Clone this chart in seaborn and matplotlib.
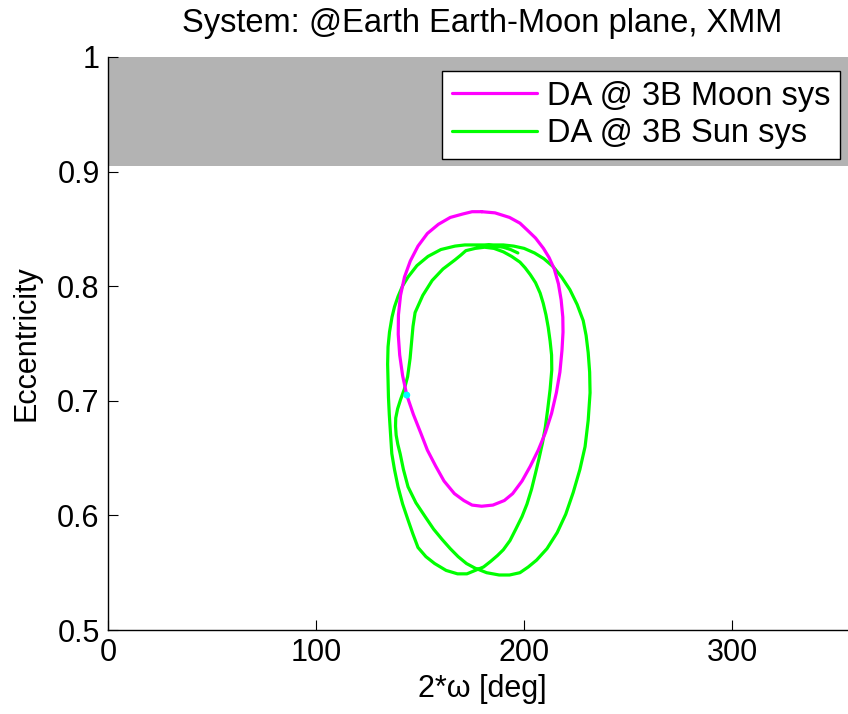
import matplotlib
matplotlib.use("Agg")
import matplotlib.pyplot as plt
import seaborn as sns
import pandas as pd

# ---- data ----
moon_omega2 = [179.7, 186.0, 193.0, 198.0, 201.5, 205.5, 209.3, 212.0, 214.5, 216.5,
               217.8, 218.6, 218.7, 218.2, 217.2, 215.5, 213.2, 210.2, 206.8, 203.0,
               199.0, 194.5, 190.5, 185.0, 179.6, 175.0, 171.0, 166.5, 161.5, 157.5,
               153.5, 150.3, 146.8, 143.6, 141.6, 140.2, 139.5, 139.6, 140.6, 142.5,
               145.3, 149.0, 153.5, 158.8, 164.5, 170.5, 175.0, 179.7]
moon_ecc = [0.865, 0.864, 0.860, 0.855, 0.849, 0.842, 0.833, 0.825, 0.815, 0.802,
            0.788, 0.773, 0.760, 0.744, 0.725, 0.707, 0.689, 0.672, 0.657, 0.643,
            0.630, 0.619, 0.613, 0.609, 0.608, 0.609, 0.613, 0.619, 0.630, 0.643,
            0.657, 0.672, 0.688, 0.705, 0.722, 0.740, 0.758, 0.775, 0.792, 0.808,
            0.822, 0.835, 0.846, 0.854, 0.860, 0.863, 0.865, 0.865]

sun_omega2 = [197.0, 193.5, 190.0, 186.5, 183.0, 179.5, 176.0, 171.5, 166.8, 160.0,
              153.8, 148.5, 144.2, 141.5, 139.4, 137.7, 136.5, 135.3, 134.6, 134.4,
              134.6, 134.8, 135.2, 135.8, 136.4, 137.7, 139.4, 141.6, 144.2, 146.5,
              149.0, 152.8, 157.0, 162.5, 168.0, 172.5, 176.5, 180.5, 184.0, 187.2,
              190.0, 193.2, 196.0, 199.0, 201.4, 203.6, 205.5, 207.2, 208.8, 210.2,
              211.3, 212.5, 213.3, 213.2, 212.5, 211.6, 210.5, 209.2, 207.7, 205.5,
              203.0, 200.5, 198.0, 194.0, 190.0, 185.5, 181.0, 176.5, 172.0, 169.5,
              166.8, 161.0, 155.8, 151.3, 147.6, 146.6, 146.0, 145.2, 144.0, 142.4,
              140.6, 139.2, 138.3, 138.2, 138.5, 139.3, 140.4, 142.0, 144.2, 148.0,
              152.4, 156.5, 160.6, 164.5, 168.3, 172.3, 176.4, 182.0, 188.0, 193.0,
              198.0, 202.0, 206.0, 211.0, 215.9, 220.0, 223.6, 226.8, 229.3, 230.8,
              231.7, 231.5, 230.8, 229.8, 228.4, 225.5, 222.0, 218.0, 214.0, 209.5,
              205.0, 200.0, 195.0, 190.0, 185.0, 178.0]
sun_ecc = [0.829, 0.832, 0.834, 0.835, 0.836, 0.836, 0.836, 0.836, 0.835, 0.832,
           0.826, 0.818, 0.808, 0.800, 0.791, 0.782, 0.773, 0.760, 0.747, 0.732,
           0.718, 0.703, 0.688, 0.671, 0.654, 0.640, 0.625, 0.610, 0.596, 0.584,
           0.572, 0.564, 0.558, 0.552, 0.549, 0.549, 0.552, 0.555, 0.560, 0.565,
           0.570, 0.578, 0.588, 0.599, 0.610, 0.623, 0.637, 0.650, 0.663, 0.677,
           0.692, 0.710, 0.727, 0.740, 0.752, 0.764, 0.775, 0.785, 0.794, 0.803,
           0.810, 0.816, 0.821, 0.826, 0.830, 0.833, 0.834, 0.833, 0.831, 0.827,
           0.823, 0.815, 0.805, 0.792, 0.777, 0.765, 0.753, 0.737, 0.721, 0.710,
           0.701, 0.693, 0.685, 0.678, 0.670, 0.662, 0.654, 0.640, 0.625, 0.611,
           0.599, 0.588, 0.579, 0.571, 0.564, 0.558, 0.554, 0.550, 0.548, 0.548,
           0.550, 0.555, 0.561, 0.571, 0.585, 0.601, 0.620, 0.640, 0.660, 0.683,
           0.707, 0.725, 0.742, 0.757, 0.770, 0.784, 0.797, 0.808, 0.817, 0.824,
           0.829, 0.833, 0.835, 0.836, 0.836, 0.835]

start_omega2 = [143.6]
start_ecc = [0.705]

band_low, band_high = 0.905, 1.0
x_ticks = [0, 100, 200, 300]
y_ticks = [0.5, 0.6, 0.7, 0.8, 0.9, 1.0]
y_ticklabels = ["0.5", "0.6", "0.7", "0.8", "0.9", "1"]

title = "System: @Earth Earth-Moon plane, XMM"
xlabel = "2*ω [deg]"
ylabel = "Eccentricity"
labels = ["DA @ 3B Moon sys", "DA @ 3B Sun sys"]

# ---- plotting ----
sns.set_style("ticks")
plt.rcParams["font.family"] = ["Liberation Sans", "DejaVu Sans"]
plt.rcParams["text.color"] = "black"
plt.rcParams["axes.labelcolor"] = "black"
FS = 22
FS_BIG = 23.5

fig = plt.figure(figsize=(8.48, 7.14), dpi=100)
ax = fig.add_axes([108 / 848, 84 / 714, 749 / 848, 573 / 714])

ax.axhspan(band_low, band_high, color="#b3b3b3", lw=0, zorder=0)

moon_df = pd.DataFrame({"w": moon_omega2, "e": moon_ecc})
sun_df = pd.DataFrame({"w": sun_omega2, "e": sun_ecc})
sns.lineplot(data=moon_df, x="w", y="e", sort=False, estimator=None,
             color="#ff00ff", lw=2.3, ax=ax, label=labels[0], zorder=3)
sns.lineplot(data=sun_df, x="w", y="e", sort=False, estimator=None,
             color="#00ff00", lw=2.3, ax=ax, label=labels[1], zorder=2)
sns.scatterplot(x=start_omega2, y=start_ecc, color="#00ffff", s=25,
                edgecolor="none", ax=ax, zorder=4)

ax.set_xlim(0, 360)
ax.set_ylim(0.5, 1.0)
ax.set_xticks(x_ticks)
ax.set_xticklabels([str(t) for t in x_ticks])
ax.set_yticks(y_ticks)
ax.set_yticklabels(y_ticklabels)
ax.tick_params(direction="in", length=7, width=0.8, labelsize=FS, pad=6,
               colors="black")
for s in ["top", "right"]:
    ax.spines[s].set_visible(False)
for s in ["left", "bottom"]:
    ax.spines[s].set_color("black")
    ax.spines[s].set_linewidth(1.0)

ax.set_title(title, fontsize=FS_BIG, pad=18, color="black")
ax.set_xlabel(xlabel, fontsize=FS, labelpad=4, color="black")
ax.set_ylabel(ylabel, fontsize=FS, labelpad=11, color="black")

leg = ax.legend(loc="upper right", bbox_to_anchor=(840 / 848, 1 - 71 / 714),
                bbox_transform=fig.transFigure, borderaxespad=0,
                fontsize=FS_BIG, frameon=True, fancybox=False, shadow=False,
                handlelength=2.6, handletextpad=0.3, labelspacing=0.2,
                borderpad=0.3)
leg.get_frame().set_edgecolor("black")
leg.get_frame().set_linewidth(1.0)
leg.get_frame().set_alpha(1.0)
for t in leg.get_texts():
    t.set_color("black")

fig.savefig("out.png", dpi=100)
